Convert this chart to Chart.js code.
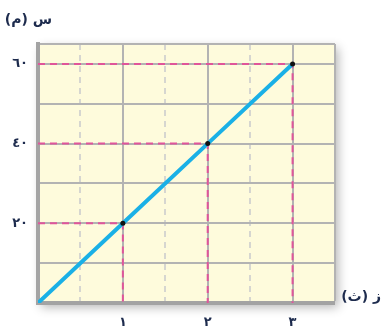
<!DOCTYPE html>
<html>
<head>
<meta charset="utf-8">
<script src="https://cdn.jsdelivr.net/npm/chart.js@4"></script>
<style>
  html, body { margin: 0; padding: 0; background: #fff; }
  #wrap { width: 385px; height: 333px; }
</style>
</head>
<body>
<div id="wrap"><canvas id="graph" width="385" height="333"></canvas></div>
<script>
// data
const times = [0, 1, 2, 3];          // ز (ث)
const distances = [0, 20, 40, 60];   // س (م)
const guidePoints = [1, 2, 3];       // points with pink guide lines
const xTickLabels = { 1: '١', 2: '٢', 3: '٣' };
const yTickLabels = { 20: '٢٠', 40: '٤٠', 60: '٦٠' };
const xTitle = 'ز (ث)';
const yTitle = 'س (م)';

const ink = '#1d2b4d';
const pink = '#e0559a';

const lineData = times.map((t, i) => ({ x: t, y: distances[i] }));

const guideSets = guidePoints.map(i => ({
  data: [{ x: 0, y: distances[i] }, { x: times[i], y: distances[i] }, { x: times[i], y: 0 }],
  borderColor: pink,
  borderWidth: 2,
  borderDash: [7, 5],
  pointRadius: 0,
  fill: false,
  order: 2
}));

const plotBg = {
  id: 'plotBg',
  beforeDraw(c) {
    const { ctx, chartArea: a } = c;
    ctx.save();
    ctx.shadowColor = 'rgba(0,0,0,0.3)';
    ctx.shadowBlur = 10;
    ctx.shadowOffsetX = 3;
    ctx.shadowOffsetY = 4;
    ctx.fillStyle = '#fefbdc';
    ctx.fillRect(a.left, a.top, a.right - a.left, a.bottom - a.top);
    ctx.restore();
  },
  afterDraw(c) {
    const { ctx, chartArea: a } = c;
    ctx.save();
    ctx.fillStyle = ink;
    ctx.font = 'bold 14px "DejaVu Sans"';
    ctx.direction = 'rtl';
    ctx.textAlign = 'right';
    ctx.textBaseline = 'middle';
    ctx.fillText(yTitle, 52, 20);
    ctx.fillText(xTitle, 381, a.bottom - 6);
    ctx.restore();
  }
};

let chart = new Chart(document.getElementById('graph').getContext('2d'), {
  type: 'line',
  data: {
    datasets: [{
      data: lineData,
      borderColor: '#1ab0e6',
      borderWidth: 4,
      pointRadius: c => c.dataIndex === 0 ? 0 : 2.5,
      pointBackgroundColor: '#111',
      pointBorderWidth: 0,
      fill: false,
      order: 1
    }].concat(guideSets)
  },
  options: {
    responsive: false,
    animation: false,
    layout: { padding: { top: 44, right: 50, left: 0, bottom: 0 } },
    plugins: { legend: { display: false }, tooltip: { enabled: false } },
    scales: {
      x: {
        type: 'linear',
        min: 0, max: 3.5,
        afterFit: s => { s.height = 30; },
        ticks: {
          stepSize: 0.5,
          padding: 12,
          color: ink,
          font: { family: 'DejaVu Sans', size: 13, weight: 'bold' },
          maxRotation: 0,
          autoSkip: false,
          callback: v => xTickLabels[v] || ''
        },
        grid: {
          drawTicks: false,
          color: c => Number.isInteger(c.tick.value) || c.tick.value === 3.5 ? '#b3b3b3' : '#d6d6d0',
          lineWidth: c => c.tick.value === 0 ? 0 : 2
        },
        border: {
          color: '#a3a3a3',
          width: 4,
          dash: c => (c.tick && !Number.isInteger(c.tick.value) && c.tick.value !== 3.5) ? [6, 5] : []
        }
      },
      y: {
        type: 'linear',
        min: 0, max: 65,
        afterFit: s => { s.width = 38; },
        ticks: {
          stepSize: 10,
          padding: 10,
          color: ink,
          font: { family: 'DejaVu Sans', size: 13, weight: 'bold' },
          callback: v => yTickLabels[v] || ''
        },
        grid: {
          drawTicks: false,
          color: '#b3b3b3',
          lineWidth: c => c.tick.value === 0 ? 0 : 2
        },
        border: { color: '#a3a3a3', width: 4 }
      }
    }
  },
  plugins: [plotBg]
});
</script>
</body>
</html>
